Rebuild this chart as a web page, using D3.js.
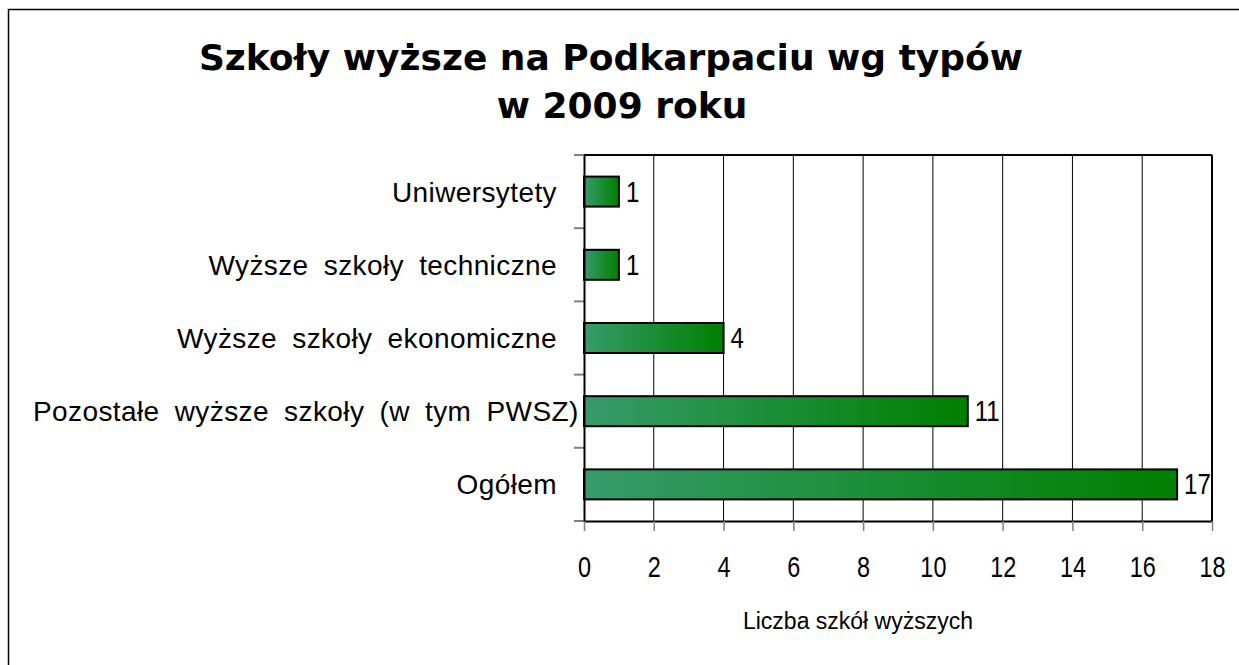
<!DOCTYPE html>
<html>
  <head>
    <meta http-equiv="content-type" content="text/html; charset=UTF-8">
    <title>Szkoły wyższe</title>
    <script type='text/javascript' src='https://d3js.org/d3.v7.min.js'></script>
    <style type='text/css'>
      body { margin: 0; background-color: white; }
    </style>
  </head>
  <body>
    <script type='text/javascript'>
      var categories = ["Uniwersytety", "Wyższe szkoły techniczne", "Wyższe szkoły ekonomiczne",
                        "Pozostałe wyższe szkoły (w tym PWSZ)", "Ogółem"];
      var values = [1, 1, 4, 11, 17];
      var xTicks = [0, 2, 4, 6, 8, 10, 12, 14, 16, 18];
      var titleLines = ["Szkoły wyższe na Podkarpaciu wg typów", "w 2009 roku"];
      var xTitle = "Liczba szkół wyższych";

      var w = 1239, h = 665;
      var pLeft = 584, pRight = 1212, pTop = 155, pBottom = 521;
      var labelMinX = 33;

      // squeeze text horizontally (the original fonts are narrower than ours)
      function condense(sel, f) {
        sel.each(function() {
          var len = this.getComputedTextLength();
          d3.select(this).attr("textLength", len * f).attr("lengthAdjust", "spacingAndGlyphs");
        });
      }

      var svg = d3.select("body").append("svg").attr("width", w).attr("height", h);

      var grad = svg.append("defs").append("linearGradient").attr("id", "barGrad")
        .attr("x1", "0%").attr("x2", "100%").attr("y1", "0%").attr("y2", "0%");
      grad.append("stop").attr("offset", "0%").attr("stop-color", "#379b6b");
      grad.append("stop").attr("offset", "100%").attr("stop-color", "#007f00");

      // outer frame
      svg.append("rect").attr("x", 8.5).attr("y", 9.5).attr("width", w + 20).attr("height", h + 20)
        .attr("fill", "white").attr("stroke", "black").attr("stroke-width", 1.5);

      svg.selectAll("text.title").data(titleLines).enter().append("text")
        .attr("class", "title")
        .attr("x", function(d, i) { return i ? 622 : 611; })
        .attr("y", function(d, i) { return 70 + i * 48; })
        .attr("text-anchor", "middle")
        .style("font-family", "DejaVu Sans").style("font-weight", "bold").style("font-size", "36px")
        .text(function(d) { return d; });

      var x = d3.scaleLinear().domain([0, 18]).range([pLeft, pRight]);
      var y = d3.scaleBand().domain(categories).range([pTop, pBottom]).paddingInner(0.59).paddingOuter(0.295);

      // gridlines
      svg.selectAll("line.grid").data(xTicks.slice(1)).enter().append("line")
        .attr("x1", function(d) { return x(d); }).attr("x2", function(d) { return x(d); })
        .attr("y1", pTop).attr("y2", pBottom).attr("stroke", "black").attr("stroke-width", 1);

      // plot frame top / right
      svg.append("line").attr("x1", pLeft).attr("x2", pRight).attr("y1", pTop).attr("y2", pTop)
        .attr("stroke", "black").attr("stroke-width", 2);
      svg.append("line").attr("x1", pRight).attr("x2", pRight).attr("y1", pTop).attr("y2", pBottom)
        .attr("stroke", "black").attr("stroke-width", 2);

      // category ticks
      var bandStep = (pBottom - pTop) / categories.length;
      svg.selectAll("line.ctick").data(d3.range(categories.length + 1)).enter().append("line")
        .attr("x1", pLeft - 10).attr("x2", pLeft)
        .attr("y1", function(d) { return pTop + d * bandStep; })
        .attr("y2", function(d) { return pTop + d * bandStep; })
        .attr("stroke", "#808080").attr("stroke-width", 2);

      // bars
      svg.selectAll("rect.bar").data(values).enter().append("rect")
        .attr("x", x(0)).attr("y", function(d, i) { return y(categories[i]); })
        .attr("width", function(d) { return x(d) - x(0); }).attr("height", y.bandwidth())
        .attr("fill", "url(#barGrad)").attr("stroke", "black").attr("stroke-width", 2);

      var vals = svg.selectAll("text.val").data(values).enter().append("text")
        .attr("class", "val")
        .attr("x", function(d) { return x(d) + 7; })
        .attr("y", function(d, i) { return y(categories[i]) + y.bandwidth() / 2 + 10; })
        .style("font-family", "Liberation Sans").style("font-size", "30px")
        .text(function(d) { return d; });
      condense(vals, 0.8);

      // y axis
      var yAxis = svg.append("g").attr("transform", "translate(" + pLeft + ",0)")
        .call(d3.axisLeft(y).tickSize(0).tickPadding(27));
      yAxis.select(".domain").attr("stroke", "black").attr("stroke-width", 2);
      yAxis.selectAll("text").style("font-family", "Liberation Sans").style("font-size", "28px")
        .style("word-spacing", "7px").style("letter-spacing", "0.4px")
        .attr("fill", "black").attr("dy", "0.36em");
      // labels too long for the space get pushed right, like the original
      yAxis.selectAll("text").each(function() {
        var bb = this.getBBox();
        var startX = pLeft + bb.x;
        if (startX < labelMinX) d3.select(this).attr("x", +d3.select(this).attr("x") + (labelMinX - startX));
      });

      // x axis
      var xAxis = svg.append("g").attr("transform", "translate(0," + pBottom + ")")
        .call(d3.axisBottom(x).tickValues(xTicks).tickSize(10).tickPadding(0).tickSizeOuter(0));
      xAxis.select(".domain").attr("stroke", "black").attr("stroke-width", 2);
      xAxis.selectAll(".tick line").attr("stroke", "#808080").attr("stroke-width", 1.5);
      xAxis.selectAll("text").style("font-family", "Liberation Sans").style("font-size", "30px")
        .attr("fill", "black").attr("y", 56).attr("dy", null);
      condense(xAxis.selectAll("text"), 0.78);

      svg.append("text").attr("x", 858).attr("y", 629).attr("text-anchor", "middle")
        .style("font-family", "Liberation Sans").style("font-size", "23px")
        .text(xTitle);
    </script>
  </body>
</html>
